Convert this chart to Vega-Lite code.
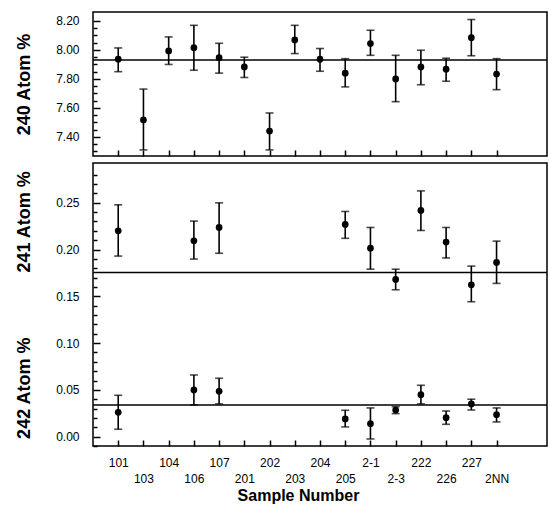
{
  "$schema": "https://vega.github.io/schema/vega-lite/v6.json",
  "background": "white",
  "padding": {"left": 14, "top": 11, "right": 0, "bottom": 5},
  "spacing": 3,
  "config": {
    "view": {"stroke": "black", "strokeWidth": 1.5},
    "font": "Liberation Sans",
    "axis": {
      "domain": false,
      "grid": false,
      "labelFont": "Liberation Sans",
      "labelFontSize": 12,
      "labelColor": "black",
      "labelOverlap": false,
      "labelFlush": false,
      "tickColor": "black",
      "tickWidth": 1.5,
      "tickCount": 100,
      "titleFont": "Liberation Sans",
      "titleFontSize": 18,
      "titleFontWeight": "bold",
      "titleColor": "black"
    }
  },
  "datasets": {
    "a240": [
      {"idx": 1, "s": "101", "v": 7.936, "lo": 7.85, "hi": 8.014},
      {"idx": 2, "s": "103", "v": 7.517, "lo": 7.31, "hi": 7.73},
      {"idx": 3, "s": "104", "v": 7.993, "lo": 7.90, "hi": 8.09},
      {"idx": 4, "s": "106", "v": 8.016, "lo": 7.86, "hi": 8.17},
      {"idx": 5, "s": "107", "v": 7.947, "lo": 7.84, "hi": 8.046},
      {"idx": 6, "s": "201", "v": 7.883, "lo": 7.81, "hi": 7.95},
      {"idx": 7, "s": "202", "v": 7.44, "lo": 7.31, "hi": 7.565},
      {"idx": 8, "s": "203", "v": 8.069, "lo": 7.975, "hi": 8.17},
      {"idx": 9, "s": "204", "v": 7.936, "lo": 7.853, "hi": 8.01},
      {"idx": 10, "s": "205", "v": 7.84, "lo": 7.745, "hi": 7.94},
      {"idx": 11, "s": "2-1", "v": 8.044, "lo": 7.963, "hi": 8.136},
      {"idx": 12, "s": "2-3", "v": 7.80, "lo": 7.643, "hi": 7.963},
      {"idx": 13, "s": "222", "v": 7.883, "lo": 7.76, "hi": 7.998},
      {"idx": 14, "s": "226", "v": 7.867, "lo": 7.784, "hi": 7.943},
      {"idx": 15, "s": "227", "v": 8.085, "lo": 7.96, "hi": 8.21},
      {"idx": 16, "s": "2NN", "v": 7.834, "lo": 7.726, "hi": 7.94}
    ],
    "a24x": [
      {"iso": "241", "idx": 1, "s": "101", "v": 0.220, "lo": 0.193, "hi": 0.2478},
      {"iso": "241", "idx": 4, "s": "106", "v": 0.2093, "lo": 0.1898, "hi": 0.2304},
      {"iso": "241", "idx": 5, "s": "107", "v": 0.2236, "lo": 0.196, "hi": 0.2499},
      {"iso": "241", "idx": 10, "s": "205", "v": 0.2268, "lo": 0.212, "hi": 0.2407},
      {"iso": "241", "idx": 11, "s": "2-1", "v": 0.2015, "lo": 0.179, "hi": 0.2236},
      {"iso": "241", "idx": 12, "s": "2-3", "v": 0.168, "lo": 0.157, "hi": 0.179},
      {"iso": "241", "idx": 13, "s": "222", "v": 0.2418, "lo": 0.2204, "hi": 0.2627},
      {"iso": "241", "idx": 14, "s": "226", "v": 0.208, "lo": 0.191, "hi": 0.2236},
      {"iso": "241", "idx": 15, "s": "227", "v": 0.1623, "lo": 0.1442, "hi": 0.1823},
      {"iso": "241", "idx": 16, "s": "2NN", "v": 0.1862, "lo": 0.1638, "hi": 0.209},
      {"iso": "242", "idx": 1, "s": "101", "v": 0.026, "lo": 0.0079, "hi": 0.0442},
      {"iso": "242", "idx": 4, "s": "106", "v": 0.0499, "lo": 0.0339, "hi": 0.0659},
      {"iso": "242", "idx": 5, "s": "107", "v": 0.0485, "lo": 0.035, "hi": 0.0624},
      {"iso": "242", "idx": 10, "s": "205", "v": 0.0189, "lo": 0.0104, "hi": 0.0282},
      {"iso": "242", "idx": 11, "s": "2-1", "v": 0.0139, "lo": -0.0025, "hi": 0.0307},
      {"iso": "242", "idx": 12, "s": "2-3", "v": 0.0285, "lo": 0.0246, "hi": 0.032},
      {"iso": "242", "idx": 13, "s": "222", "v": 0.0449, "lo": 0.035, "hi": 0.0549},
      {"iso": "242", "idx": 14, "s": "226", "v": 0.0203, "lo": 0.0132, "hi": 0.0274},
      {"iso": "242", "idx": 15, "s": "227", "v": 0.035, "lo": 0.0285, "hi": 0.040},
      {"iso": "242", "idx": 16, "s": "2NN", "v": 0.0235, "lo": 0.0157, "hi": 0.0307}
    ],
    "m240": [{"iso": "240", "m": 7.931}],
    "m24x": [{"iso": "241", "m": 0.1755}, {"iso": "242", "m": 0.0339}]
  },
  "vconcat": [
    {
      "width": 454,
      "height": 144,
      "layer": [
        {
          "data": {"name": "m240"},
          "mark": {"type": "rule", "color": "black", "strokeWidth": 1.5},
          "encoding": {
            "y": {"field": "m", "type": "quantitative", "scale": {"domain": [7.268, 8.262], "nice": false, "zero": false}}
          }
        },
        {
          "data": {"name": "a240"},
          "mark": {"type": "rule", "color": "black", "strokeWidth": 1.6},
          "encoding": {
            "x": {"field": "idx", "type": "quantitative", "scale": {"domain": [0, 18], "nice": false},
              "axis": {"title": null, "labels": false, "tickCount": 100, "values": [1,2,3,4,5,6,7,8,9,10,11,12,13,14,15,16], "tickSize": -6}},
            "y": {"field": "lo", "type": "quantitative", "scale": {"domain": [7.268, 8.262], "nice": false, "zero": false},
              "axis": {
                "title": "240 Atom %",
                "titlePadding": 22,
                "labelOverlap": false,
                "tickCount": 100,
                "values": [7.30,7.35,7.40,7.45,7.50,7.55,7.60,7.65,7.70,7.75,7.80,7.85,7.90,7.95,8.00,8.05,8.10,8.15,8.20],
                "labelExpr": "abs(round(datum.value*100)) % 20 == 0 ? format(datum.value, '.2f') : ''",
                "tickSize": -7,
                "tickDash": {"condition": {"test": "abs(round(datum.value*100)) % 20 == 0", "value": [20, 0]}, "value": [4, 20]},
                "labelPadding": 21
              }},
            "y2": {"field": "hi"}
          }
        },
        {
          "data": {"name": "a240"},
          "mark": {"type": "tick", "orient": "horizontal", "color": "black", "size": 8, "thickness": 1.6},
          "encoding": {
            "x": {"field": "idx", "type": "quantitative", "scale": {"domain": [0, 18], "nice": false}},
            "y": {"field": "lo", "type": "quantitative", "scale": {"domain": [7.268, 8.262], "nice": false, "zero": false}}
          }
        },
        {
          "data": {"name": "a240"},
          "mark": {"type": "tick", "orient": "horizontal", "color": "black", "size": 8, "thickness": 1.6},
          "encoding": {
            "x": {"field": "idx", "type": "quantitative", "scale": {"domain": [0, 18], "nice": false}},
            "y": {"field": "hi", "type": "quantitative", "scale": {"domain": [7.268, 8.262], "nice": false, "zero": false}}
          }
        },
        {
          "data": {"name": "a240"},
          "mark": {"type": "circle", "color": "black", "opacity": 1, "size": 45},
          "encoding": {
            "x": {"field": "idx", "type": "quantitative", "scale": {"domain": [0, 18], "nice": false}},
            "y": {"field": "v", "type": "quantitative", "scale": {"domain": [7.268, 8.262], "nice": false, "zero": false}}
          }
        }
      ]
    },
    {
      "width": 454,
      "height": 283,
      "layer": [
        {
          "data": {"name": "m24x"},
          "mark": {"type": "rule", "color": "black", "strokeWidth": 1.5},
          "encoding": {
            "y": {"field": "m", "type": "quantitative", "scale": {"domain": [-0.01, 0.2925], "nice": false, "zero": false}}
          }
        },
        {
          "data": {"name": "a24x"},
          "mark": {"type": "rule", "color": "black", "strokeWidth": 1.6},
          "encoding": {
            "x": {"field": "idx", "type": "quantitative", "scale": {"domain": [0, 18], "nice": false},
              "axis": {
                "title": "Sample Number",
                "titleFontSize": 16,
                "titleX": 205,
                "titleAlign": "center",
                "titleAnchor": "start",
                "titlePadding": 3,
                "labelOverlap": false,
                "tickCount": 100,
                "values": [1,2,3,4,5,6,7,8,9,10,11,12,13,14,15,16],
                "labelExpr": "datum.value % 2 == 1 ? ['','101','103','104','106','107','201','202','203','204','205','2-1','2-3','222','226','227','2NN'][datum.value] : ['', ['','101','103','104','106','107','201','202','203','204','205','2-1','2-3','222','226','227','2NN'][datum.value]]",
                "labelLineHeight": 16,
                "tickSize": -6,
                "labelPadding": 17
              }},
            "y": {"field": "lo", "type": "quantitative", "scale": {"domain": [-0.01, 0.2925], "nice": false, "zero": false},
              "axis": {
                "title": "242 Atom %\u00a0\u00a0\u00a0\u00a0\u00a0\u00a0\u00a0\u00a0\u00a0\u00a0\u00a0\u00a0\u00a0241 Atom %",
                "titlePadding": 22,
                "labelOverlap": false,
                "tickCount": 100,
                "values": [-0.01,0,0.01,0.02,0.03,0.04,0.05,0.06,0.07,0.08,0.09,0.10,0.11,0.12,0.13,0.14,0.15,0.16,0.17,0.18,0.19,0.20,0.21,0.22,0.23,0.24,0.25,0.26,0.27,0.28],
                "labelExpr": "round(datum.value*100) % 5 == 0 && datum.value > -0.005 ? format(datum.value, '.2f') : ''",
                "tickSize": -7,
                "tickDash": {"condition": {"test": "round(datum.value*100) % 5 == 0", "value": [20, 0]}, "value": [4, 20]},
                "labelPadding": 21
              }},
            "y2": {"field": "hi"}
          }
        },
        {
          "data": {"name": "a24x"},
          "mark": {"type": "tick", "orient": "horizontal", "color": "black", "size": 8, "thickness": 1.6},
          "encoding": {
            "x": {"field": "idx", "type": "quantitative", "scale": {"domain": [0, 18], "nice": false}},
            "y": {"field": "lo", "type": "quantitative", "scale": {"domain": [-0.01, 0.2925], "nice": false, "zero": false}}
          }
        },
        {
          "data": {"name": "a24x"},
          "mark": {"type": "tick", "orient": "horizontal", "color": "black", "size": 8, "thickness": 1.6},
          "encoding": {
            "x": {"field": "idx", "type": "quantitative", "scale": {"domain": [0, 18], "nice": false}},
            "y": {"field": "hi", "type": "quantitative", "scale": {"domain": [-0.01, 0.2925], "nice": false, "zero": false}}
          }
        },
        {
          "data": {"name": "a24x"},
          "mark": {"type": "circle", "color": "black", "opacity": 1, "size": 45},
          "encoding": {
            "x": {"field": "idx", "type": "quantitative", "scale": {"domain": [0, 18], "nice": false}},
            "y": {"field": "v", "type": "quantitative", "scale": {"domain": [-0.01, 0.2925], "nice": false, "zero": false}}
          }
        }
      ]
    }
  ]
}
